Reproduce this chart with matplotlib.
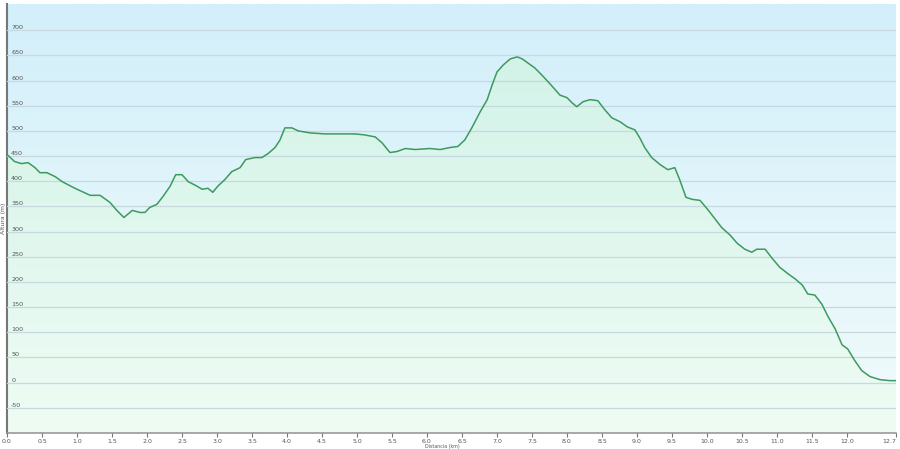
import numpy as np
import matplotlib
matplotlib.use("Agg")
from matplotlib import pyplot as plt
from matplotlib.colors import LinearSegmentedColormap

plt.rcParams["axes.unicode_minus"] = False

# elevation profile: distance (km) / altitude (m)
dist = [0.0, 0.11, 0.21, 0.3, 0.4, 0.47, 0.57, 0.69, 0.79, 0.97, 1.19, 1.33, 1.47, 1.57,
        1.67, 1.79, 1.9, 1.97, 2.04, 2.14, 2.23, 2.33, 2.41, 2.5, 2.59, 2.69, 2.79, 2.87,
        2.94, 3.01, 3.11, 3.21, 3.33, 3.41, 3.54, 3.64, 3.73, 3.83, 3.9, 3.97, 4.07, 4.16,
        4.33, 4.54, 4.83, 4.97, 5.11, 5.26, 5.36, 5.47, 5.57, 5.69, 5.83, 6.04, 6.19, 6.33,
        6.44, 6.54, 6.64, 6.76, 6.86, 6.93, 7.0, 7.09, 7.19, 7.29, 7.36, 7.44, 7.54, 7.64,
        7.76, 7.9, 8.0, 8.07, 8.14, 8.23, 8.33, 8.44, 8.54, 8.64, 8.76, 8.86, 8.97, 9.04,
        9.11, 9.21, 9.33, 9.44, 9.54, 9.61, 9.7, 9.79, 9.9, 10.01, 10.11, 10.21, 10.33,
        10.43, 10.54, 10.64, 10.71, 10.83, 10.93, 11.04, 11.16, 11.26, 11.36, 11.44, 11.54,
        11.64, 11.73, 11.83, 11.93, 12.01, 12.11, 12.21, 12.33, 12.47, 12.61, 12.7]
alt = [453, 439, 435, 437, 427, 417, 417, 409, 399, 386, 372, 372, 358, 342,
       328, 342, 338, 338, 348, 354, 370, 390, 413, 413, 399, 392, 384, 386,
       378, 390, 403, 419, 427, 443, 447, 447, 455, 467, 482, 506, 506, 500,
       496, 494, 494, 494, 492, 488, 476, 457, 459, 465, 463, 465, 463, 467,
       469, 482, 506, 538, 562, 591, 617, 631, 643, 647, 643, 635, 625, 611,
       593, 571, 566, 556, 548, 558, 562, 560, 542, 526, 518, 508, 502, 486,
       467, 447, 433, 423, 427, 403, 368, 364, 362, 344, 326, 308, 293,
       277, 265, 259, 265, 265, 247, 229, 216, 206, 194, 176, 174,
       156, 131, 107, 75, 67, 44, 24, 12, 6, 4, 4]

xticks = [0.0, 0.5, 1.0, 1.5, 2.0, 2.5, 3.0, 3.5, 4.0, 4.5, 5.0, 5.5, 6.0, 6.5, 7.0,
          7.5, 8.0, 8.5, 9.0, 9.5, 10.0, 10.5, 11.0, 11.5, 12.0, 12.7]
yticks = [-50, 0, 50, 100, 150, 200, 250, 300, 350, 400, 450, 500, 550, 600, 650, 700]

fig = plt.figure(figsize=(9, 4.49), dpi=100)
ax = fig.add_axes([7 / 900, 16 / 449, 889 / 900, 429 / 449])
xmin, xmax, ymin, ymax = 0, 12.7, -100, 752
ax.set_xlim(xmin, xmax)
ax.set_ylim(ymin, ymax)

# background gradient
bg = LinearSegmentedColormap.from_list("bg", ["#f2fbfa", "#d2effb"])
grad = np.linspace(0, 1, 256).reshape(-1, 1)
ax.imshow(grad, cmap=bg, origin="lower", aspect="auto",
          extent=[xmin, xmax, ymin, ymax], zorder=0)

# area gradient clipped to the profile
fillc = LinearSegmentedColormap.from_list("fill", ["#effcf4", "#d3f3e8"])
poly = ax.fill_between(dist, alt, ymin, color="none", zorder=1)
im = ax.imshow(grad, cmap=fillc, origin="lower", aspect="auto",
               extent=[xmin, xmax, ymin, 660], zorder=1)
im.set_clip_path(poly.get_paths()[0], transform=ax.transData)

ax.plot(dist, alt, color="#3d9a5f", lw=1.1, zorder=3)

ax.set_yticks(yticks)
ax.grid(axis="y", color="#c5d9de", lw=0.9, zorder=2)
ax.set_axisbelow(False)
ax.tick_params(axis="y", length=0, pad=-3, labelsize=4.6, labelcolor="#555555")
for lbl in ax.get_yticklabels():
    lbl.set_ha("left")
    lbl.set_va("bottom")

ax.set_xticks(xticks)
ax.set_xticklabels([f"{t:.1f}" for t in xticks])
ax.tick_params(axis="x", length=3, width=0.8, color="#777777", pad=1.2,
               labelsize=4.5, labelcolor="#555555")
ax.get_xticklabels()[-1].set_ha("right")

for side in ["top", "right"]:
    ax.spines[side].set_visible(False)
ax.spines["left"].set_color("#777777")
ax.spines["left"].set_linewidth(1.5)
ax.spines["bottom"].set_color("#999999")
ax.spines["bottom"].set_linewidth(1.2)

ax.set_ylabel("Altura (m)", fontsize=4.4, color="#555555", labelpad=0.5)
ax.set_xlabel("Distancia (km)", fontsize=3.4, color="#555555")
ax.xaxis.set_label_coords(0.49, -0.0265)
ax.xaxis.label.set_va("top")

fig.savefig("out.png", dpi=100)
